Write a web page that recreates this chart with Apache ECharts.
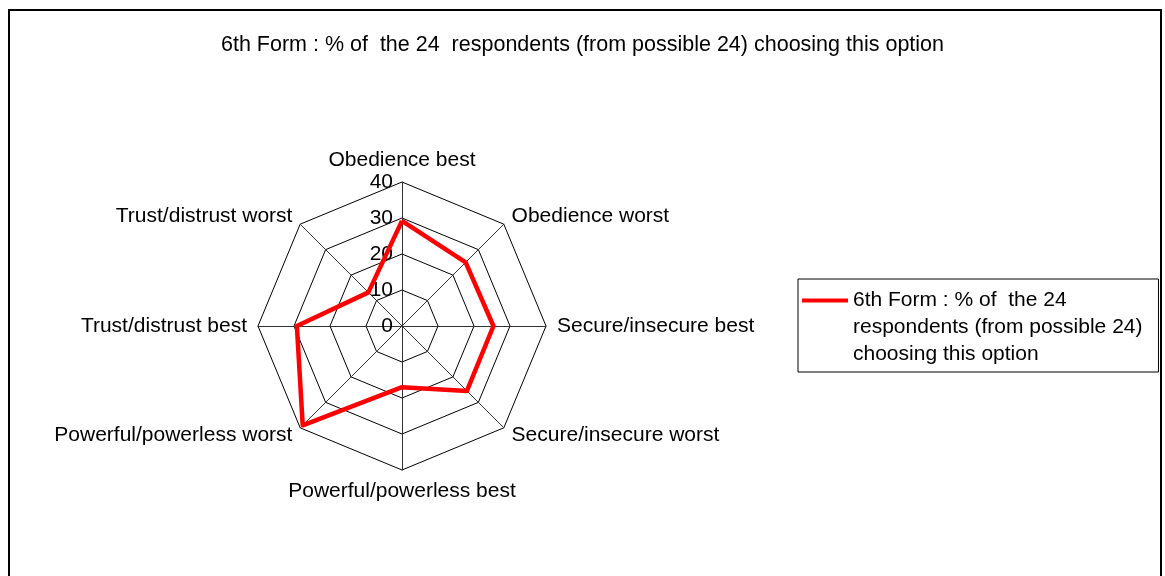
<!DOCTYPE html>
<html>
<head>
<meta charset="utf-8">
<script src="https://cdn.jsdelivr.net/npm/echarts@6/dist/echarts.min.js"></script>
<style>
  html, body { margin: 0; padding: 0; background: #fff; }
  #chart { width: 1165px; height: 576px; }
</style>
</head>
<body>
<div id="chart"></div>
<script>
// 数据（按顺时针顺序，从顶部开始）
const seriesName = '6th Form : % of  the 24  respondents (from possible 24) choosing this option'
const legendLines = ['6th Form : % of  the 24', 'respondents (from possible 24)', 'choosing this option']
const indicators = [
  'Obedience best',
  'Obedience worst',
  'Secure/insecure best',
  'Secure/insecure worst',
  'Powerful/powerless best',
  'Powerful/powerless worst',
  'Trust/distrust best',
  'Trust/distrust worst'
]
const values = [29.2, 25, 25.4, 25.5, 17, 39, 29.2, 13.2]
const axisMax = 40
const axisSplit = 4

const font = 'Liberation Sans, Arial, sans-serif'

// ECharts 雷达图逆时针排列，这里调整顺序使其顺时针
const order = [0].concat(indicators.map((_, i) => i).slice(1).reverse())
const orderedNames = order.map(i => indicators[i])
const orderedValues = order.map(i => values[i])

const chart = echarts.init(document.getElementById('chart'))

const option = {
  backgroundColor: '#fff',
  animation: false,
  title: {
    text: seriesName,
    left: 'center',
    top: 29,
    textStyle: { fontFamily: font, fontSize: 21.5, fontWeight: 'normal', color: '#000' }
  },
  legend: {
    left: 798,
    top: 279,
    orient: 'vertical',
    padding: [8, 16, 4, 4],
    borderColor: '#000',
    borderWidth: 1,
    itemWidth: 46,
    itemHeight: 81,
    symbolKeepAspect: false,
    icon: 'path://M0,0H46V0H0ZM0,11.5H46V15.5H0ZM0,81H46V81H0Z',
    itemStyle: { borderWidth: 0 },
    formatter: () => legendLines.join('\n'),
    textStyle: { fontFamily: font, fontSize: 21, color: '#000', lineHeight: 27 }
  },
  radar: {
    center: [402, 326],
    radius: 144,
    startAngle: 90,
    shape: 'polygon',
    splitNumber: axisSplit,
    nameGap: 11,
    axisName: { fontFamily: font, fontSize: 21, color: '#000' },
    axisLine: { lineStyle: { color: '#333', width: 1 } },
    splitLine: { lineStyle: { color: '#000', width: 1 } },
    splitArea: { show: false },
    axisTick: { show: false },
    axisLabel: { show: false },
    indicator: orderedNames.map((name, i) => {
      const ind = { name: name, min: 0, max: axisMax }
      if (i === 0) {
        ind.axisLabel = { show: true, fontFamily: font, fontSize: 21, color: '#000', margin: 9 }
      }
      return ind
    })
  },
  series: [{
    name: seriesName,
    type: 'radar',
    symbol: 'none',
    itemStyle: { color: '#ff0000' },
    lineStyle: { color: '#ff0000', width: 4.5 },
    data: [{ value: orderedValues, name: seriesName }]
  }],
  graphic: [{
    type: 'rect',
    z: -1,
    shape: { x: 9, y: 10, width: 1152, height: 600 },
    style: { fill: 'none', stroke: '#000', lineWidth: 2 }
  }]
}

chart.setOption(option)
</script>
</body>
</html>
